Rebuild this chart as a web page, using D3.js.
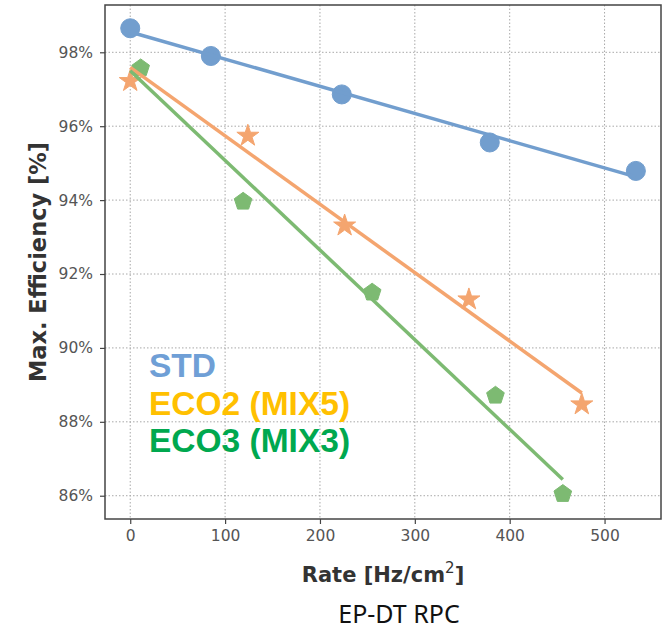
<!DOCTYPE html>
<html>
<head>
<meta charset="utf-8">
<script src="https://cdn.jsdelivr.net/npm/d3@7"></script>
<style>
  html, body { margin: 0; padding: 0; background: #fff; }
  svg { display: block; }
</style>
</head>
<body>
<div id="chart"></div>
<script>
/*---------- DATA ----------*/
// STD
let stdRate = [0, 85, 223, 379, 533];
let stdEff = [98.65, 97.9, 96.86, 95.56, 94.79];
let stdFitRate = [0, 533];
let stdFitEff = [98.55, 94.63];

// ECO2 (MIX5)
let eco2Rate = [0, 124, 226, 357, 476];
let eco2Eff = [97.22, 95.74, 93.31, 91.31, 88.47];
let eco2FitRate = [0, 476];
let eco2FitEff = [97.59, 88.78];

// ECO3 (MIX3)
let eco3Rate = [11, 119, 255, 385, 456];
let eco3Eff = [97.57, 93.96, 91.5, 88.71, 86.05];
let eco3FitRate = [0, 456];
let eco3FitEff = [97.5, 86.44];

let xTicks = [0, 100, 200, 300, 400, 500];
let yTicks = [86, 88, 90, 92, 94, 96, 98];
let legendNames = ["STD", "ECO2 (MIX5)", "ECO3 (MIX3)"];

/*---------- SETUP ----------*/
let width = 665;
let height = 632;
let plot = { left: 105, right: 661, top: 5, bottom: 519 };

let svg = d3
  .select("#chart")
  .append("svg")
  .attr("width", width)
  .attr("height", height)
  .attr("viewBox", `0 0 ${width} ${height}`);

let x = d3.scaleLinear().domain([-26.6, 559.5]).range([plot.left, plot.right]);
let y = d3.scaleLinear().domain([85.37, 99.28]).range([plot.bottom, plot.top]);

// Pentagon marker, same interface as d3 symbols
let symbolPentagon = {
  draw(context, size) {
    let r = Math.sqrt(size / 2.378);
    for (let i = 0; i < 5; i++) {
      let a = -Math.PI / 2 + (2 * Math.PI * i) / 5;
      let px = r * Math.cos(a);
      let py = r * Math.sin(a);
      if (i === 0) context.moveTo(px, py);
      else context.lineTo(px, py);
    }
    context.closePath();
  },
};

let series = [
  { rate: stdRate, eff: stdEff, fitRate: stdFitRate, fitEff: stdFitEff,
    color: "#729ece", symbol: d3.symbolCircle, size: 285 },
  { rate: eco2Rate, eff: eco2Eff, fitRate: eco2FitRate, fitEff: eco2FitEff,
    color: "#f4a56f", symbol: d3.symbolStar, size: 150 },
  { rate: eco3Rate, eff: eco3Eff, fitRate: eco3FitRate, fitEff: eco3FitEff,
    color: "#7dba72", symbol: symbolPentagon, size: 205 },
];

/*---------- GRID ----------*/
let grid = svg.append("g").attr("stroke", "#a8a8a8").attr("stroke-width", 1)
  .attr("stroke-dasharray", "1.5,2");

grid
  .selectAll("line.gx")
  .data(xTicks)
  .join("line")
  .attr("class", "gx")
  .attr("x1", (d) => x(d))
  .attr("x2", (d) => x(d))
  .attr("y1", plot.top)
  .attr("y2", plot.bottom);

grid
  .selectAll("line.gy")
  .data(yTicks)
  .join("line")
  .attr("class", "gy")
  .attr("x1", plot.left)
  .attr("x2", plot.right)
  .attr("y1", (d) => y(d))
  .attr("y2", (d) => y(d));

/*---------- MARKERS + FIT LINES ----------*/
let line = d3
  .line()
  .x((d) => x(d[0]))
  .y((d) => y(d[1]));

series.forEach((s) => {
  svg
    .append("g")
    .selectAll("path")
    .data(d3.zip(s.rate, s.eff))
    .join("path")
    .attr("transform", (d) => `translate(${x(d[0])},${y(d[1])})`)
    .attr("d", d3.symbol().type(s.symbol).size(s.size))
    .attr("fill", s.color)
    .attr("stroke", s.color)
    .attr("stroke-width", 1)
    .attr("stroke-linejoin", "round");
});

series.forEach((s) => {
  svg
    .append("path")
    .datum(d3.zip(s.fitRate, s.fitEff))
    .attr("d", line)
    .attr("fill", "none")
    .attr("stroke", s.color)
    .attr("stroke-width", 3.5);
});

/*---------- AXES ----------*/
let xAxis = svg
  .append("g")
  .attr("transform", `translate(0,${plot.bottom})`)
  .call(d3.axisBottom(x).tickValues(xTicks).tickSize(5).tickPadding(6).tickSizeOuter(0));

let yAxis = svg
  .append("g")
  .attr("transform", `translate(${plot.left},0)`)
  .call(
    d3.axisLeft(y).tickValues(yTicks).tickSize(5).tickPadding(7).tickSizeOuter(0)
      .tickFormat((d) => d + "%")
  );

[xAxis, yAxis].forEach((ax) => {
  ax.select(".domain").remove();
  ax.selectAll(".tick line").attr("stroke", "#444").attr("stroke-width", 1.2);
  ax.selectAll(".tick text")
    .attr("fill", "#555")
    .attr("font-family", "DejaVu Sans")
    .attr("font-size", "15.5px");
});

// Frame
svg
  .append("rect")
  .attr("x", plot.left)
  .attr("y", plot.top)
  .attr("width", plot.right - plot.left)
  .attr("height", plot.bottom - plot.top)
  .attr("fill", "none")
  .attr("stroke", "#444")
  .attr("stroke-width", 1.5);

// Axis titles
let xLabel = svg
  .append("text")
  .attr("x", (plot.left + plot.right) / 2)
  .attr("y", 582)
  .attr("text-anchor", "middle")
  .attr("font-family", "DejaVu Sans")
  .attr("font-weight", "bold")
  .attr("font-size", "21px")
  .attr("fill", "#333");
xLabel.append("tspan").text("Rate [Hz/cm");
xLabel.append("tspan").attr("dy", -9).attr("font-size", "15px")
  .attr("font-weight", "normal").text("2");
xLabel.append("tspan").attr("dy", 9).text("]");

svg
  .append("text")
  .attr("transform", `translate(46,${(plot.top + plot.bottom) / 2}) rotate(-90)`)
  .attr("text-anchor", "middle")
  .attr("font-family", "DejaVu Sans")
  .attr("font-weight", "bold")
  .attr("font-size", "22.5px")
  .attr("fill", "#333")
  .text("Max. Efficiency [%]");

/*---------- LEGEND ----------*/
let legendColors = ["#6f9fd6", "#ffc000", "#00a84f"];
svg
  .selectAll("text.legend")
  .data(legendNames)
  .join("text")
  .attr("class", "legend")
  .attr("x", 149)
  .attr("y", (d, i) => 377 + i * 37.5)
  .attr("font-family", "Liberation Sans, Arial, sans-serif")
  .attr("font-weight", "bold")
  .attr("font-size", "33.5px")
  .attr("fill", (d, i) => legendColors[i])
  .text((d) => d);

// Caption
svg
  .append("text")
  .attr("x", 399)
  .attr("y", 623)
  .attr("text-anchor", "middle")
  .attr("font-family", "Noto Sans")
  .attr("font-size", "25px")
  .attr("fill", "#111")
  .text("EP-DT RPC");
</script>
</body>
</html>
